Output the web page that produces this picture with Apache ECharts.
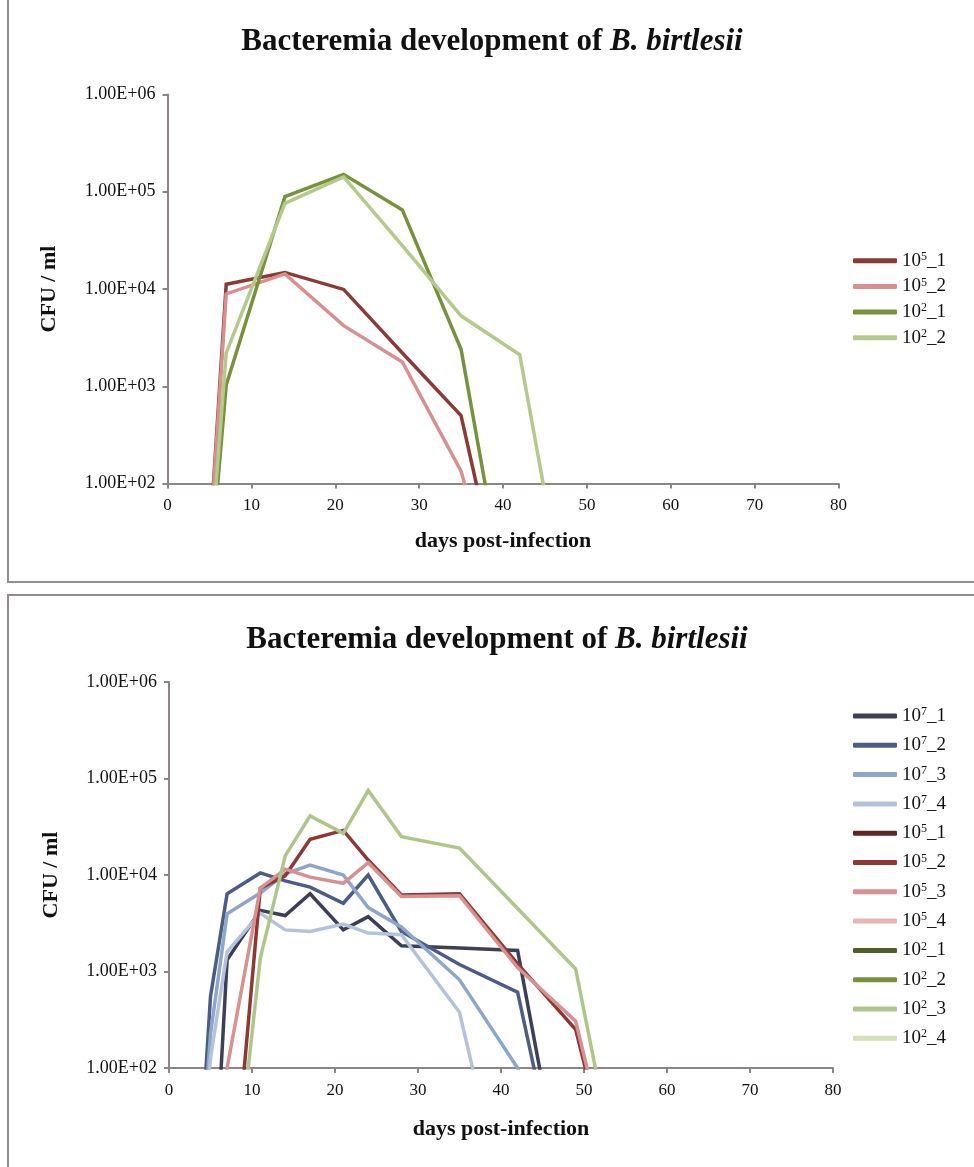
<!DOCTYPE html>
<html>
<head>
<meta charset="utf-8">
<script src="https://cdn.jsdelivr.net/npm/echarts@6/dist/echarts.min.js"></script>
<style>
  html, body { margin: 0; padding: 0; background: #fff; }
  body { width: 974px; height: 1167px; position: relative; overflow: hidden; }
  .frame { position: absolute; border: 2px solid #938d8d; box-sizing: border-box; }
  #f1 { left: 7px; top: -4px; width: 1000px; height: 587px; }
  #f2 { left: 7px; top: 594px; width: 1000px; height: 620px; }
  .chart { position: absolute; left: 0; top: 0; width: 974px; height: 1167px; }
</style>
</head>
<body>
<div class="frame" id="f1"></div>
<div class="frame" id="f2"></div>
<div class="chart" id="chartTop"></div>
<div class="chart" id="chartBottom"></div>
<script>
// ---- Panel 1: two inoculum doses, two animals each ----
const topDays = [4, 7, 14, 21, 28, 35, 42, 49];
const topNames = ['10^5_1', '10^5_2', '10^2_1', '10^2_2'];
const topColors = ['#8c3a36', '#d98f8d', '#77923b', '#b3ca8b'];
const top_5_1 = [0, 11200, 14800, 9900, 2200, 500, 0, 0];
const top_5_2 = [0, 8900, 14300, 4200, 1780, 134, 0, 0];
const top_2_1 = [0, 1030, 89000, 151000, 65000, 2400, 0, 0];
const top_2_2 = [0, 2200, 76000, 142000, 28000, 5300, 2100, 0];
const topValues = [top_5_1, top_5_2, top_2_1, top_2_2];

// ---- Panel 2: three inoculum doses, four animals each ----
const botDays = [3, 5, 7, 11, 14, 17, 21, 24, 28, 35, 42, 49, 56];
const botNames = ['10^7_1', '10^7_2', '10^7_3', '10^7_4',
                  '10^5_1', '10^5_2', '10^5_3', '10^5_4',
                  '10^2_1', '10^2_2', '10^2_3', '10^2_4'];
const botColors = ['#3b3f57', '#4b5d87', '#8da6c9', '#b4c3db',
                   '#5e2724', '#8f3833', '#d69190', '#e7b6b4',
                   '#4f5f2a', '#77923b', '#afc68a', '#d3e0b8'];
const bot_7_1 = [0, 0, 1320, 4300, 3800, 6400, 2700, 3700, 1850, 1750, 1650, 0, 0];
const bot_7_2 = [0, 550, 6400, 10500, 8700, 7500, 5100, 10000, 2600, 1180, 610, 0, 0];
const bot_7_3 = [0, 225, 3960, 6500, 10300, 12700, 10000, 4600, 2900, 820, 100, 0, 0];
const bot_7_4 = [0, 126, 1600, 4000, 2700, 2600, 3100, 2500, 2400, 378, 0, 0, 0];
const bot_5_1 = [0, 0, 0, 0, 0, 0, 0, 0, 0, 0, 0, 0, 0];
const bot_5_2 = [0, 0, 0, 7300, 9800, 23500, 29000, 14300, 6200, 6400, 1200, 250, 0];
const bot_5_3 = [0, 0, 100, 7300, 11500, 9500, 8200, 13400, 6000, 6100, 1100, 305, 0];
const bot_5_4 = [0, 0, 0, 0, 0, 0, 0, 0, 0, 0, 0, 0, 0];
const bot_2_1 = [0, 0, 0, 0, 0, 0, 0, 0, 0, 0, 0, 0, 0];
const bot_2_2 = [0, 0, 0, 0, 0, 0, 0, 0, 0, 0, 0, 0, 0];
const bot_2_3 = [0, 0, 0, 1380, 15800, 41000, 27000, 75000, 25000, 19000, 4500, 1060, 0];
const bot_2_4 = [0, 0, 0, 0, 0, 0, 0, 0, 0, 0, 0, 0, 0];
const botValues = [bot_7_1, bot_7_2, bot_7_3, bot_7_4, bot_5_1, bot_5_2,
                   bot_5_3, bot_5_4, bot_2_1, bot_2_2, bot_2_3, bot_2_4];

const xTicks = [0, 10, 20, 30, 40, 50, 60, 70, 80];
const yTicks = [1e2, 1e3, 1e4, 1e5, 1e6];

const SERIF = '"Liberation Serif", "Times New Roman", serif';
const AXIS_COLOR = '#8d8585';

// A zero count cannot sit on a log scale; it is drawn at 1, below the visible range.
function pairs(days, vals) {
  return days.map((d, i) => [d, vals[i] > 0 ? vals[i] : 1]);
}

function sciLabel(v) {
  const e = Math.round(Math.log10(v));
  return '1.00E+' + String(e).padStart(2, '0');
}

function legendLabel(name) {
  const m = name.match(/^(\d+)\^(\d+)(_\d+)$/);
  return '{b|' + m[1] + '}{s|' + m[2] + '}{b|' + m[3] + '}';
}

function buildOption(cfg) {
  return {
    animation: false,
    title: {
      text: '{n|Bacteremia development of }{i|B. birtlesii}',
      left: cfg.titleX, top: cfg.titleTop, textAlign: 'center', padding: 0,
      textStyle: {
        rich: {
          n: { fontFamily: SERIF, fontSize: 31, fontWeight: 'bold', color: '#111', lineHeight: 36 },
          i: { fontFamily: SERIF, fontSize: 31, fontWeight: 'bold', fontStyle: 'italic', color: '#111', lineHeight: 36 }
        }
      }
    },
    grid: cfg.grid,
    xAxis: {
      type: 'value', min: xTicks[0], max: xTicks[xTicks.length - 1],
      interval: xTicks[1] - xTicks[0],
      axisLine: { show: true, lineStyle: { color: AXIS_COLOR, width: 2 } },
      axisTick: { show: true, length: 5, lineStyle: { color: AXIS_COLOR, width: 2 } },
      splitLine: { show: false },
      axisLabel: { fontFamily: SERIF, fontSize: 17, color: '#111', margin: 14 },
      name: 'days post-infection', nameLocation: 'middle', nameGap: cfg.xNameGap,
      nameTextStyle: { fontFamily: SERIF, fontSize: 22, fontWeight: 'bold', color: '#111' }
    },
    yAxis: {
      type: 'log', logBase: 10, min: yTicks[0], max: yTicks[yTicks.length - 1],
      axisLine: { show: true, lineStyle: { color: AXIS_COLOR, width: 2 } },
      axisTick: { show: true, length: 5, lineStyle: { color: AXIS_COLOR, width: 2 } },
      minorTick: { show: false },
      splitLine: { show: false },
      axisLabel: { fontFamily: SERIF, fontSize: 18, color: '#111', margin: 12, formatter: sciLabel },
      name: 'CFU / ml', nameLocation: 'middle', nameGap: cfg.yNameGap, nameRotate: 90,
      nameTextStyle: { fontFamily: SERIF, fontSize: 22, fontWeight: 'bold', color: '#111' }
    },
    legend: {
      orient: 'vertical', left: 853, top: cfg.legendTop, itemGap: cfg.legendGap,
      itemWidth: 44, itemHeight: 5, icon: 'roundRect', padding: 0,
      data: cfg.names,
      formatter: legendLabel,
      textStyle: {
        rich: {
          b: { fontFamily: SERIF, fontSize: 19, color: '#111', lineHeight: 20 },
          s: { fontFamily: SERIF, fontSize: 12, color: '#111', lineHeight: 12, verticalAlign: 'top' }
        }
      }
    },
    series: cfg.names.map((n, i) => ({
      name: n, type: 'line',
      data: pairs(cfg.days, cfg.values[i]),
      symbol: 'none', clip: true, silent: true,
      color: cfg.colors[i],
      lineStyle: { color: cfg.colors[i], width: 3.5, join: 'miter' }
    }))
  };
}

echarts.init(document.getElementById('chartTop')).setOption(buildOption({
  titleX: 492, titleTop: 24,
  grid: { left: 167.5, top: 94.5, width: 671, height: 389 },
  xNameGap: 47, yNameGap: 107,
  legendTop: 250.7, legendGap: 6.2,
  names: topNames, colors: topColors, days: topDays, values: topValues
}));

echarts.init(document.getElementById('chartBottom')).setOption(buildOption({
  titleX: 497, titleTop: 622,
  grid: { left: 169, top: 682, width: 664, height: 386 },
  xNameGap: 50, yNameGap: 107,
  legendTop: 706, legendGap: 9.8,
  names: botNames, colors: botColors, days: botDays, values: botValues
}));
</script>
</body>
</html>
